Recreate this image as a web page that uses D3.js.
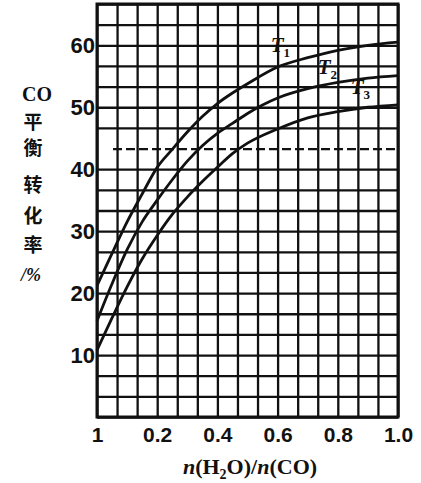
<!DOCTYPE html>
<html>
<head>
<meta charset="utf-8">
<script src="https://cdn.jsdelivr.net/npm/d3@7"></script>
<style>
  body { margin: 0; background: #fff; }
</style>
</head>
<body>
<div id="chart"></div>
<script>
// n(H2O)/n(CO) and CO equilibrium conversion (%)
const ratio = [0, 0.05, 0.1, 0.15, 0.2, 0.25, 0.3, 0.35, 0.4, 0.45, 0.5, 0.6, 0.7, 0.8, 0.9, 1.0];
const t1 = [21.2, 26.4, 31.5, 36, 40.3, 43.2, 46, 48.5, 50.6, 52.3, 53.8, 56.5, 58, 59.2, 60, 60.5];
const t2 = [15.5, 21.5, 27, 31.5, 35, 38.3, 41.3, 43.8, 45.8, 47.4, 49, 51.5, 53, 54, 54.7, 55.1];
const t3 = [10.8, 16, 21, 25.5, 29.3, 32.7, 35.5, 38, 40.3, 42.5, 44.2, 46.5, 48.3, 49.3, 50, 50.4];
const seriesSub = ['1', '2', '3'];

const xTicks = [0, 0.2, 0.4, 0.6, 0.8, 1.0];
const xTickLabels = ['1', '0.2', '0.4', '0.6', '0.8', '1.0'];
const yTicks = [10, 20, 30, 40, 50, 60];
const yTitle = ['平', '衡', '转', '化', '率'];

const W = 421, H = 483;
const yMax = 200 / 3;

const svg = d3.select('#chart')
  .append('svg')
  .attr('width', W)
  .attr('height', H)
  .style('font-family', '"Liberation Serif", "DejaVu Serif", serif');

const x = d3.scaleLinear().domain([0, 1]).range([97, 398]);
const y = d3.scaleLinear().domain([0, yMax]).range([417, 4]);

// grid, one cell = 1/15 across and 10/3 up
const xGrid = d3.range(16).map(i => i / 15);
const yGrid = d3.range(21).map(i => i * 10 / 3);

svg.append('g')
  .attr('transform', `translate(0,${y(0)})`)
  .call(d3.axisBottom(x).tickValues(xGrid).tickSize(-(y(0) - y(yMax))).tickFormat(''))
  .call(g => g.select('.domain').remove())
  .selectAll('line')
  .attr('stroke', '#111')
  .attr('stroke-width', 2.3);

svg.append('g')
  .attr('transform', `translate(${x(0)},0)`)
  .call(d3.axisLeft(y).tickValues(yGrid).tickSize(-(x(1) - x(0))).tickFormat(''))
  .call(g => g.select('.domain').remove())
  .selectAll('line')
  .attr('stroke', '#111')
  .attr('stroke-width', 2.3)
  .filter((d, i) => i === 13)
  .attr('x1', 16)
  .attr('stroke-dasharray', '9,4');

svg.append('rect')
  .attr('x', x(0))
  .attr('y', y(yMax))
  .attr('width', x(1) - x(0))
  .attr('height', y(0) - y(yMax))
  .attr('fill', 'none')
  .attr('stroke', '#111')
  .attr('stroke-width', 3);

// tick labels
svg.append('g')
  .attr('transform', `translate(0,${y(0)})`)
  .call(d3.axisBottom(x).tickValues(xTicks).tickSize(0).tickPadding(10)
    .tickFormat((d, i) => xTickLabels[i]))
  .call(g => g.select('.domain').remove())
  .selectAll('text')
  .attr('fill', '#111')
  .style('font-size', '21px')
  .style('font-weight', 'bold');

svg.append('g')
  .attr('transform', `translate(${x(0)},0)`)
  .call(d3.axisLeft(y).tickValues(yTicks).tickSize(0).tickPadding(2))
  .call(g => g.select('.domain').remove())
  .selectAll('text')
  .attr('fill', '#111')
  .style('font-size', '22px')
  .style('font-weight', 'bold');

// curves
const line = d3.line()
  .x((d, i) => x(ratio[i]))
  .y(d => y(d))
  .curve(d3.curveMonotoneX);

svg.selectAll('.curve')
  .data([t1, t2, t3])
  .enter()
  .append('path')
  .attr('class', 'curve')
  .attr('d', line)
  .attr('fill', 'none')
  .attr('stroke', '#111')
  .attr('stroke-width', 2.8);

// T labels
const labelPos = [[0.577, 58.9], [0.733, 55.4], [0.843, 52.2]];
const tl = svg.selectAll('.tlab')
  .data(seriesSub)
  .enter()
  .append('text')
  .attr('class', 'tlab')
  .attr('x', (d, i) => x(labelPos[i][0]))
  .attr('y', (d, i) => y(labelPos[i][1]))
  .attr('fill', '#111')
  .style('font-size', '21px')
  .style('font-weight', 'bold')
  .style('font-style', 'italic');
tl.append('tspan').text('T');
tl.append('tspan')
  .attr('dy', 5)
  .style('font-size', '13px')
  .style('font-style', 'normal')
  .text(d => d);

// y title
svg.append('text')
  .attr('x', 37)
  .attr('y', 101)
  .attr('text-anchor', 'middle')
  .attr('fill', '#111')
  .style('font-size', '20px')
  .style('font-weight', 'bold')
  .text('CO');

const cjkY = [129, 155, 192, 223, 252];
svg.selectAll('.cjk')
  .data(yTitle)
  .enter()
  .append('text')
  .attr('class', 'cjk')
  .attr('x', 33)
  .attr('y', (d, i) => cjkY[i])
  .attr('text-anchor', 'middle')
  .attr('fill', '#111')
  .style('font-family', '"Noto Sans CJK SC", sans-serif')
  .style('font-size', '19px')
  .style('font-weight', 'bold')
  .text(d => d);

svg.append('text')
  .attr('x', 31)
  .attr('y', 281)
  .attr('text-anchor', 'middle')
  .attr('fill', '#111')
  .style('font-size', '18px')
  .style('font-weight', 'bold')
  .style('font-style', 'italic')
  .text('/%');

// x title
const xt = svg.append('text')
  .attr('x', 250)
  .attr('y', 474)
  .attr('text-anchor', 'middle')
  .attr('fill', '#111')
  .style('font-size', '22px')
  .style('font-weight', 'bold');
xt.append('tspan').style('font-style', 'italic').text('n');
xt.append('tspan').text('(H');
xt.append('tspan').attr('dy', 5).style('font-size', '14px').text('2');
xt.append('tspan').attr('dy', -5).text('O)/');
xt.append('tspan').style('font-style', 'italic').text('n');
xt.append('tspan').text('(CO)');
</script>
</body>
</html>
